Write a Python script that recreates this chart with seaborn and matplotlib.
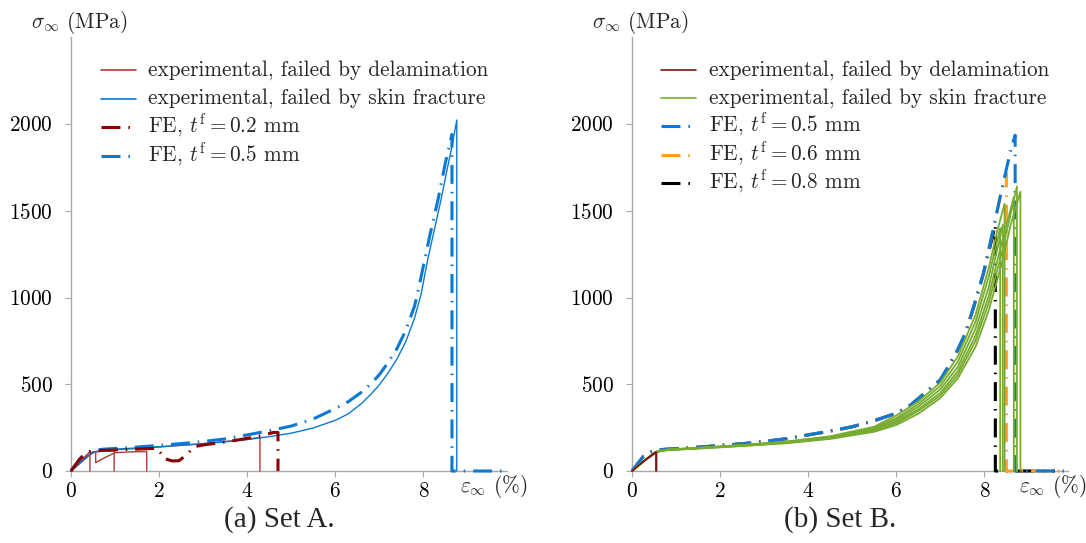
import os
import numpy as np
import pandas as pd
import seaborn as sns
import matplotlib
matplotlib.use("Agg")
import matplotlib.pyplot as plt
from matplotlib.lines import Line2D
from matplotlib.ticker import FuncFormatter
from matplotlib.font_manager import FontProperties

# ---------------- data ----------------
# Set A - experimental, failed by skin fracture (blue, thin)
a_skin_eps = [0, 0.25, 0.5, 0.7, 1.0, 1.5, 2.0, 2.5, 3.0, 3.5, 4.0, 4.5, 5.0, 5.5, 6.0, 6.3, 6.6, 6.8, 7.0, 7.2, 7.4, 7.6, 7.8, 7.95, 8.1, 8.25, 8.4, 8.55, 8.65, 8.76, 8.76]
a_skin_sig = [0, 60, 108, 120, 126, 133, 140, 148, 157, 168, 181, 198, 218, 248, 292, 330, 390, 440, 496, 565, 645, 745, 880, 1020, 1220, 1390, 1562, 1750, 1870, 2023, 0]
# Set A - experimental, failed by delamination (red, thin)
a_del1_eps = [0, 0.2, 0.43, 0.43]
a_del1_sig = [0, 55, 111, 0]
a_del2_eps = [0, 0.3, 0.56, 0.56, 0.75, 1.0, 1.3, 1.72, 1.72]
a_del2_sig = [0, 78, 111, 48, 75, 105, 110, 112, 0]
a_del3_eps = [0, 0.5, 0.98, 0.98]
a_del3_sig = [0, 110, 118, 0]
a_del4_eps = [0, 0.5, 1.0, 2.0, 3.0, 3.5, 4.0, 4.29, 4.29]
a_del4_sig = [0, 110, 122, 138, 158, 170, 183, 194, 0]
# Set A - FE, t_f = 0.2 mm (dark red, dash-dot)
a_fe02_eps = [0, 0.2, 0.42, 0.6, 1.0, 1.5, 1.95, 2.05, 2.1, 2.3, 2.45, 2.62, 2.8, 3.0, 3.5, 4.0, 4.3, 4.6, 4.7, 4.7]
a_fe02_sig = [0, 70, 110, 118, 121, 126, 131, 100, 73, 58, 59, 92, 140, 150, 167, 188, 203, 222, 222, 0]
# Set A - FE, t_f = 0.5 mm (blue, dash-dot)
a_fe05_eps = [0, 0.24, 0.45, 0.7, 1.0, 1.5, 2.0, 2.5, 3.0, 3.5, 4.0, 4.5, 5.0, 5.5, 6.0, 6.3, 6.6, 6.8, 7.0, 7.2, 7.4, 7.6, 7.8, 7.9, 8.0, 8.15, 8.33, 8.5, 8.65, 8.65, 9.9]
a_fe05_sig = [0, 82, 115, 125, 130, 138, 148, 158, 170, 185, 208, 232, 259, 300, 360, 400, 455, 500, 555, 625, 705, 810, 950, 1060, 1180, 1360, 1560, 1775, 1940, 0, 0]

# Set B - experimental, failed by delamination (dark red, thin)
b_del1_eps = [0, 0.3, 0.54, 0.54]
b_del1_sig = [0, 65, 111, 0]
b_del2_eps = [0, 0.3, 0.56, 0.56]
b_del2_sig = [0, 62, 108, 0]
# Set B - experimental, failed by skin fracture (green, thin)
b_skin1_eps = [0, 0.3, 0.55, 0.8, 1.5, 2.5, 3.5, 4.5, 5.5, 6.0, 6.5, 7.0, 7.4, 7.8, 8.1, 8.3, 8.46, 8.46]
b_skin1_sig = [0, 65, 112, 124, 134, 150, 170, 200, 255, 320, 400, 510, 660, 900, 1170, 1390, 1540, 0]
b_skin2_eps = [0, 0.3, 0.55, 0.8, 1.5, 2.5, 3.5, 4.5, 5.5, 6.0, 6.5, 7.0, 7.4, 7.8, 8.1, 8.36, 8.36]
b_skin2_sig = [0, 64, 111, 123, 133, 149, 168, 197, 250, 305, 385, 490, 630, 860, 1120, 1400, 0]
b_skin3_eps = [0, 0.3, 0.55, 0.8, 1.5, 2.5, 3.5, 4.5, 5.5, 6.0, 6.5, 7.0, 7.4, 7.8, 8.1, 8.42, 8.42]
b_skin3_sig = [0, 64, 111, 122, 132, 148, 166, 194, 244, 295, 370, 470, 600, 820, 1060, 1420, 0]
b_skin4_eps = [0, 0.3, 0.55, 0.8, 1.5, 2.5, 3.5, 4.5, 5.5, 6.0, 6.5, 7.0, 7.4, 7.8, 8.1, 8.4, 8.67, 8.67]
b_skin4_sig = [0, 63, 110, 122, 131, 146, 164, 191, 238, 285, 355, 450, 575, 780, 1010, 1320, 1580, 0]
b_skin5_eps = [0, 0.3, 0.55, 0.8, 1.5, 2.5, 3.5, 4.5, 5.5, 6.0, 6.5, 7.0, 7.4, 7.8, 8.1, 8.4, 8.74, 8.74]
b_skin5_sig = [0, 63, 110, 121, 130, 145, 162, 188, 232, 275, 345, 435, 555, 750, 970, 1260, 1640, 0]
b_skin6_eps = [0, 0.3, 0.55, 0.8, 1.5, 2.5, 3.5, 4.5, 5.5, 6.0, 6.5, 7.0, 7.4, 7.8, 8.1, 8.4, 8.6, 8.82, 8.82]
b_skin6_sig = [0, 62, 109, 120, 129, 144, 160, 185, 226, 265, 330, 420, 535, 715, 925, 1200, 1420, 1610, 0]
# Set B - FE curves (dash-dot)
b_fe05_eps = [0, 0.26, 0.45, 0.7, 1.0, 1.5, 2.0, 2.5, 3.0, 3.5, 4.0, 4.5, 5.0, 5.5, 6.0, 6.3, 6.7, 7.0, 7.2, 7.4, 7.57, 7.76, 7.98, 8.2, 8.36, 8.5, 8.63, 8.7, 8.7, 9.85]
b_fe05_sig = [0, 85, 112, 124, 129, 137, 147, 157, 170, 186, 208, 230, 255, 290, 333, 375, 460, 525, 610, 700, 794, 947, 1139, 1390, 1580, 1740, 1880, 1935, 0, 0]
b_fe06_eps = [0, 0.26, 0.45, 0.7, 1.0, 1.5, 2.0, 2.5, 3.0, 3.5, 4.0, 4.5, 5.0, 5.5, 6.0, 6.3, 6.7, 7.0, 7.2, 7.4, 7.57, 7.76, 7.98, 8.2, 8.36, 8.5, 8.5, 9.8]
b_fe06_sig = [0, 85, 112, 124, 129, 137, 147, 157, 170, 186, 208, 230, 255, 290, 333, 375, 460, 525, 610, 700, 794, 947, 1139, 1390, 1580, 1716, 0, 0]
b_fe08_eps = [0, 0.26, 0.45, 0.7, 1.0, 1.5, 2.0, 2.5, 3.0, 3.5, 4.0, 4.5, 5.0, 5.5, 6.0, 6.3, 6.7, 7.0, 7.2, 7.4, 7.57, 7.76, 7.98, 8.25, 8.25, 9.6]
b_fe08_sig = [0, 85, 112, 124, 129, 137, 147, 157, 170, 186, 208, 230, 255, 290, 333, 375, 460, 525, 610, 700, 794, 947, 1139, 1418, 0, 0]

x_ticks = [0, 2, 4, 6, 8]
y_ticks = [0, 500, 1000, 1500, 2000]
legend_a = ["experimental, failed by delamination",
            "experimental, failed by skin fracture",
            r"FE, $t^{\mathrm{f}} = 0.2$ mm",
            r"FE, $t^{\mathrm{f}} = 0.5$ mm"]
legend_b = ["experimental, failed by delamination",
            "experimental, failed by skin fracture",
            r"FE, $t^{\mathrm{f}} = 0.5$ mm",
            r"FE, $t^{\mathrm{f}} = 0.6$ mm",
            r"FE, $t^{\mathrm{f}} = 0.8$ mm"]
y_label = r"$\sigma_\infty$ (MPa)"
x_label = r"$\varepsilon_\infty$ (%)"
captions = ["(a) Set A.", "(b) Set B."]

# ---------------- style ----------------
sns.set_theme(style="white")
plt.rcParams["font.family"] = ["DejaVu Serif"]
plt.rcParams["mathtext.fontset"] = "cm"

FS = 15.3
cm_path = os.path.join(matplotlib.get_data_path(), "fonts", "ttf", "cmr10.ttf")
if os.path.exists(cm_path):
    CMP = FontProperties(fname=cm_path, size=FS)
else:
    CMP = FontProperties(family="DejaVu Serif", size=FS)

BLUE = "#0B78D6"
DRED = "#8B0000"
LRED = "#B03A3A"
BRED = "#7E1414"
GREEN = "#77AC30"
ORANGE = "#FF9E1F"
BLACK = "#000000"
DASHDOT = (0, (6.2, 2.6, 0.5, 2.6))
FE_LW = 2.2
EXP_LW = 1.0

W, H = 1086, 543
fig = plt.figure(figsize=(W / 100, H / 100), dpi=100)

def px_axes(x0, x1, y0, y1):
    return fig.add_axes([x0 / W, 1 - y0 / H, (x1 - x0) / W, (y0 - y1) / H])

ax_a = px_axes(71, 507, 471, 37.25)
ax_b = px_axes(632, 1068, 471, 37.25)

def draw(ax, e, s, color, lw, ls="-"):
    sns.lineplot(x=e, y=s, ax=ax, color=color, lw=lw, linestyle=ls,
                 sort=False, estimator=None, zorder=3, clip_on=False)

# Set A
for e, s in [(a_del1_eps, a_del1_sig), (a_del2_eps, a_del2_sig),
             (a_del3_eps, a_del3_sig), (a_del4_eps, a_del4_sig)]:
    draw(ax_a, e, s, LRED, EXP_LW)
draw(ax_a, a_skin_eps, a_skin_sig, BLUE, EXP_LW)
draw(ax_a, a_fe05_eps, a_fe05_sig, BLUE, FE_LW, DASHDOT)
draw(ax_a, a_fe02_eps, a_fe02_sig, DRED, FE_LW, DASHDOT)

# Set B
draw(ax_b, b_fe08_eps, b_fe08_sig, BLACK, FE_LW, DASHDOT)
draw(ax_b, b_fe06_eps, b_fe06_sig, ORANGE, FE_LW, DASHDOT)
draw(ax_b, b_fe05_eps, b_fe05_sig, BLUE, FE_LW, DASHDOT)
for e, s in [(b_skin1_eps, b_skin1_sig), (b_skin2_eps, b_skin2_sig), (b_skin3_eps, b_skin3_sig),
             (b_skin4_eps, b_skin4_sig), (b_skin5_eps, b_skin5_sig), (b_skin6_eps, b_skin6_sig)]:
    draw(ax_b, e, s, GREEN, 1.3)
for e, s in [(b_del1_eps, b_del1_sig), (b_del2_eps, b_del2_sig)]:
    draw(ax_b, e, s, BRED, EXP_LW)

math_fmt = FuncFormatter(lambda v, p: r"$%d$" % int(round(v)))
for ax in (ax_a, ax_b):
    ax.set_xlim(0, 9.9)
    ax.set_ylim(0, 2500)
    ax.set_xticks(x_ticks)
    ax.set_yticks(y_ticks)
    ax.xaxis.set_major_formatter(math_fmt)
    ax.yaxis.set_major_formatter(math_fmt)
    ax.set_xlabel("")
    ax.set_ylabel("")
    if ax.get_legend() is not None:
        ax.get_legend().remove()
    for sp in ("top", "right"):
        ax.spines[sp].set_visible(False)
    for sp in ("left", "bottom"):
        ax.spines[sp].set_color("#A8A8A8")
        ax.spines[sp].set_linewidth(1.0)
    ax.tick_params(axis="both", which="both", bottom=True, left=True, direction="out",
                   length=4, width=0.8, color="#A8A8A8", labelsize=FS, labelcolor="black")
    ax.tick_params(axis="y", pad=9)
    ax.tick_params(axis="x", pad=4)
    ax.set_facecolor("white")

# legends (placed row by row, in figure pixels)
def legend_rows(entries, hx0, tx, rows_y):
    for (color, lw, ls, label), y in zip(entries, rows_y):
        yf = 1 - y / H
        hx1 = hx0 + (35 if ls == "-" else 30)
        fig.add_artist(Line2D([hx0 / W, hx1 / W], [yf, yf], transform=fig.transFigure,
                              color=color, lw=lw, linestyle=ls))
        fig.text(tx / W, 1 - (y + 5.5) / H, label, ha="left", va="baseline",
                 fontproperties=CMP)

entries_a = [(LRED, 1.2, "-", legend_a[0]), (BLUE, 1.2, "-", legend_a[1]),
             (DRED, FE_LW, DASHDOT, legend_a[2]), (BLUE, FE_LW, DASHDOT, legend_a[3])]
entries_b = [(BRED, 1.2, "-", legend_b[0]), (GREEN, 1.2, "-", legend_b[1]),
             (BLUE, FE_LW, DASHDOT, legend_b[2]), (ORANGE, FE_LW, DASHDOT, legend_b[3]),
             (BLACK, FE_LW, DASHDOT, legend_b[4])]
legend_rows(entries_a, 101, 148, [70, 98.5, 127, 155.5])
legend_rows(entries_b, 661, 709, [70, 98, 126, 154.5, 183])

# axis labels
fig.text(79 / W, 1 - 23 / H, y_label, ha="center", va="center", fontproperties=CMP)
fig.text(640 / W, 1 - 23 / H, y_label, ha="center", va="center", fontproperties=CMP)
fig.text(460 / W, 1 - 487 / H, x_label, ha="left", va="center", fontproperties=CMP)
fig.text(1019 / W, 1 - 487 / H, x_label, ha="left", va="center", fontproperties=CMP)

# captions
fig.text(279 / W, 1 - 520 / H, captions[0], ha="center", va="center", fontsize=21,
         family="Liberation Serif")
fig.text(840 / W, 1 - 520 / H, captions[1], ha="center", va="center", fontsize=21,
         family="Liberation Serif")

fig.savefig("out.png", dpi=100, facecolor="white")
